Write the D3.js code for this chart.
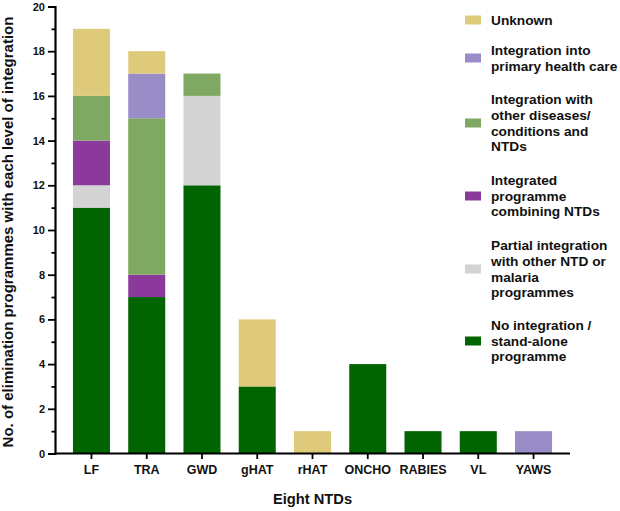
<!DOCTYPE html>
<html>
<head>
<meta charset="utf-8">
<script src="https://cdn.jsdelivr.net/npm/d3@7"></script>
<style>
html,body{margin:0;padding:0;background:#fff;}
svg{display:block;font-family:"Liberation Sans",Arial,sans-serif;font-weight:bold;}
</style>
</head>
<body>
<svg id="chart" width="620" height="511"></svg>
<script>
const categories = ["LF","TRA","GWD","gHAT","rHAT","ONCHO","RABIES","VL","YAWS"];
const seriesKeys = ["none","partial","combined","other","phc","unknown"];
const seriesLabels = [
  ["No integration /","stand-alone","programme"],
  ["Partial integration","with other NTD or","malaria","programmes"],
  ["Integrated","programme","combining NTDs"],
  ["Integration with","other diseases/","conditions and","NTDs"],
  ["Integration into","primary health care"],
  ["Unknown"]
];
const seriesColors = ["#006400","#d3d3d3","#8b3a9b","#7fa862","#9a8cc7","#dfca7b"];
// values per category, per series (order of seriesKeys)
const none     = [11, 7, 12, 3, 0, 4, 1, 1, 0];
const partial  = [ 1, 0,  4, 0, 0, 0, 0, 0, 0];
const combined = [ 2, 1,  0, 0, 0, 0, 0, 0, 0];
const other    = [ 2, 7,  1, 0, 0, 0, 0, 0, 0];
const phc      = [ 0, 2,  0, 0, 0, 0, 0, 0, 1];
const unknown  = [ 3, 1,  0, 3, 1, 0, 0, 0, 0];
const yTicks = [0,2,4,6,8,10,12,14,16,18,20];

const seriesValues = [none, partial, combined, other, phc, unknown];
const table = categories.map((c,i)=>{
  const row = {cat:c};
  seriesKeys.forEach((k,j)=>row[k]=seriesValues[j][i]);
  return row;
});

const svg = d3.select("#chart");
const mLeft = 55, mRight = 570, mTop = 6.5, mBottom = 453.5;

const x = d3.scaleBand().domain(categories).range([mLeft,mRight]).paddingInner(0.33).paddingOuter(0.325);
const y = d3.scaleLinear().domain([0,20]).range([mBottom,mTop]);

const stack = d3.stack().keys(seriesKeys)(table);

svg.append("g").selectAll("g").data(stack).join("g")
  .attr("fill",(d,i)=>seriesColors[i])
  .selectAll("rect").data(d=>d).join("rect")
  .attr("x",d=>x(d.data.cat))
  .attr("width",x.bandwidth())
  .attr("y",d=>y(d[1]))
  .attr("height",d=>y(d[0])-y(d[1]));

// Y axis
const yAxis = svg.append("g").attr("transform",`translate(${mLeft},0)`);
yAxis.call(d3.axisLeft(y).tickValues(yTicks).tickSize(7).tickPadding(3).tickFormat(d3.format("d")));
const yMinor = yAxis.append("g").call(d3.axisLeft(y).tickValues(d3.range(1,20,2)).tickSize(3.5).tickFormat(""));
yMinor.select(".domain").remove();
yAxis.selectAll(".domain").attr("stroke","#000").attr("stroke-width",2.2);
yAxis.selectAll(".tick line").attr("stroke","#000").attr("stroke-width",1.8);
yAxis.selectAll("text").attr("font-size","11px").attr("font-weight","bold").attr("font-family","Liberation Sans, Arial, sans-serif").attr("fill","#111");

// X axis
const xAxis = svg.append("g").attr("transform",`translate(0,${mBottom})`);
xAxis.call(d3.axisBottom(x).tickSize(5.5).tickPadding(6).tickSizeOuter(0));
xAxis.select(".domain").attr("stroke","#000").attr("stroke-width",2.2).attr("d",`M${mLeft},0H${mRight}`);
xAxis.selectAll(".tick line").attr("stroke","#000").attr("stroke-width",1.8);
xAxis.selectAll("text").attr("font-size","12.5px").attr("font-weight","bold").attr("font-family","Liberation Sans, Arial, sans-serif").attr("fill","#111");

// Axis titles
svg.append("text").attr("x",(mLeft+mRight)/2).attr("y",504).attr("text-anchor","middle")
  .attr("font-size","14.7px").attr("fill","#111").text("Eight NTDs");
svg.append("text").attr("transform","translate(13,232) rotate(-90)").attr("text-anchor","middle")
  .attr("font-size","15px").attr("fill","#111").text("No. of elimination programmes with each level of integration");

// Legend (top to bottom: reverse of stack order)
const legendCenters = [341, 269, 196, 123, 58, 20];
const lineH = 15.6;
const legend = svg.append("g");
seriesKeys.forEach((k,i)=>{
  const cy = legendCenters[i];
  const lines = seriesLabels[i];
  legend.append("rect").attr("x",465).attr("y",cy-4.5).attr("width",16).attr("height",9).attr("fill",seriesColors[i]);
  const t = legend.append("text").attr("font-size","13.7px").attr("fill","#111");
  const startY = cy - (lines.length-1)*lineH/2;
  lines.forEach((ln,j)=>{
    t.append("tspan").attr("x",491).attr("y",startY + j*lineH).attr("dy","0.35em").text(ln);
  });
});
</script>
</body>
</html>
